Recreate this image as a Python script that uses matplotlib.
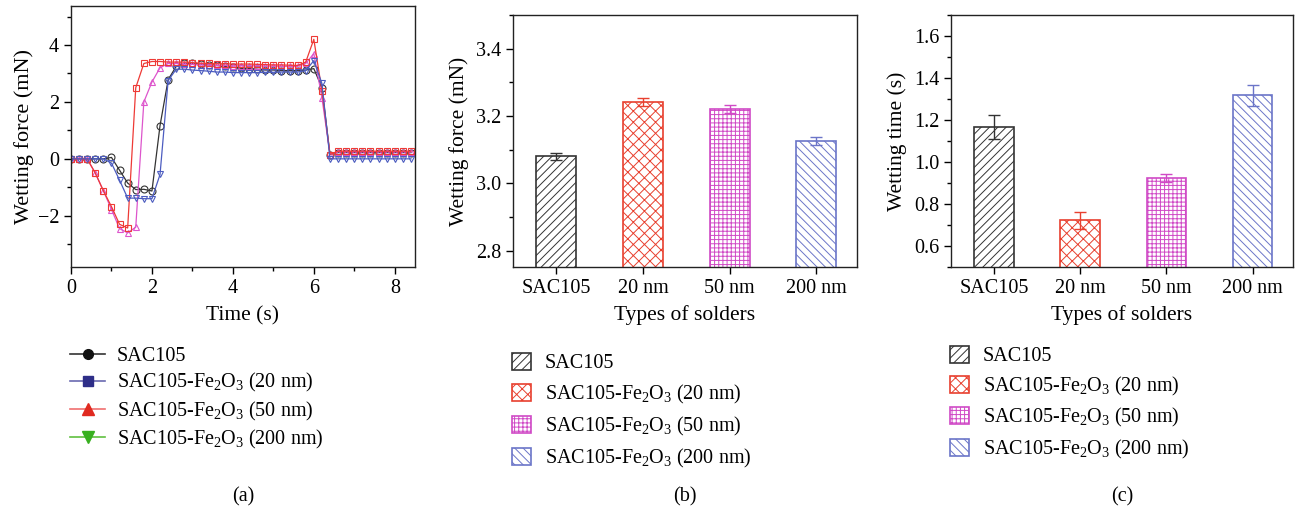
import numpy as np
import matplotlib
matplotlib.use('Agg')
import matplotlib.pyplot as plt
from matplotlib.lines import Line2D
from matplotlib.patches import Patch
from matplotlib.ticker import AutoMinorLocator, MultipleLocator

plt.rcParams['font.family'] = ['Liberation Serif', 'DejaVu Serif']
plt.rcParams['mathtext.fontset'] = 'custom'
plt.rcParams['mathtext.rm'] = 'Liberation Serif'
plt.rcParams['mathtext.it'] = 'Liberation Serif:italic'
plt.rcParams['hatch.linewidth'] = 0.7

# (a) wetting curves, one point every 0.2 s
t = np.round(np.arange(0, 8.41, 0.2), 1)
f_sac = [0, 0, 0, 0, 0, 0.05, -0.4, -0.85, -1.08, -1.07, -1.13, 1.17, 2.78, 3.25, 3.35,
         3.35, 3.32, 3.3, 3.28, 3.25, 3.22, 3.18, 3.17, 3.15, 3.12, 3.12, 3.1, 3.1, 3.1,
         3.12, 3.17, 2.5, 0.15, 0.22, 0.22, 0.22, 0.22, 0.22, 0.22, 0.22, 0.22, 0.22, 0.22]
f_20 = [0, 0, 0, -0.5, -1.12, -1.68, -2.3, -2.43, 2.5, 3.35, 3.42, 3.42, 3.4, 3.4, 3.4,
        3.38, 3.36, 3.35, 3.34, 3.34, 3.33, 3.33, 3.33, 3.32, 3.31, 3.3, 3.3, 3.29, 3.28,
        3.4, 4.2, 2.4, 0.15, 0.27, 0.27, 0.27, 0.27, 0.27, 0.27, 0.27, 0.27, 0.27, 0.27]
f_50 = [0, 0, 0, -0.5, -1.12, -1.78, -2.45, -2.6, -2.4, 2.0, 2.7, 3.2, 3.35, 3.35, 3.33,
        3.32, 3.3, 3.3, 3.28, 3.28, 3.27, 3.27, 3.27, 3.27, 3.26, 3.26, 3.25, 3.25, 3.25,
        3.35, 3.7, 2.15, 0.15, 0.25, 0.25, 0.25, 0.25, 0.25, 0.25, 0.25, 0.25, 0.25, 0.25]
f_200 = [0, 0, 0, 0, 0, -0.15, -0.75, -1.38, -1.38, -1.4, -1.4, -0.55, 2.75, 3.15, 3.15,
         3.12, 3.1, 3.08, 3.05, 3.05, 3.03, 3.03, 3.03, 3.03, 3.04, 3.04, 3.05, 3.05, 3.05,
         3.1, 3.45, 2.65, 0.0, 0, 0, 0, 0, 0, 0, 0, 0, 0, 0]

# (b), (c) bar data
solders = ['SAC105', '20 nm', '50 nm', '200 nm']
force = [3.08, 3.242, 3.221, 3.126]
force_err = [0.011, 0.011, 0.011, 0.011]
wtime = [1.167, 0.722, 0.923, 1.317]
wtime_err = [0.057, 0.04, 0.02, 0.052]

legend_labels = ['SAC105', 'SAC105-Fe$_2$O$_3$ (20 nm)',
                 'SAC105-Fe$_2$O$_3$ (50 nm)', 'SAC105-Fe$_2$O$_3$ (200 nm)']

bar_colors = ['#333333', '#e8402f', '#d04ac6', '#6b75c8']
bar_hatches = ['////', 'xxx', '++++', '\\\\\\\\']

W, H = 1295, 515
fig = plt.figure(figsize=(W / 100, H / 100), dpi=100)

def box(l, t_, r, b):
    return [l / W, 1 - b / H, (r - l) / W, (b - t_) / H]

ax_a = fig.add_axes(box(71, 6, 415, 267))
ax_b = fig.add_axes(box(513, 15, 857, 267))
ax_c = fig.add_axes(box(951, 15, 1293, 267))

fs = 14.5   # ticks, legend
fl = 15.5   # axis labels
for ax in (ax_a, ax_b, ax_c):
    for s in ax.spines.values():
        s.set_linewidth(1.0)
        s.set_color('#222222')
    ax.tick_params(which='major', direction='out', length=5, width=1, labelsize=fs,
                   top=False, right=False)
    ax.tick_params(which='minor', direction='out', length=3, width=1, top=False, right=False)

# ---- panel a
styles = {'sac': ('#333333', 'o'), '20': ('#ee3a36', 's'), '50': ('#dd55cc', '^'), '200': ('#4c5cc0', 'v')}
for y, key in [(f_sac, 'sac'), (f_50, '50'), (f_20, '20'), (f_200, '200')]:
    c, m = styles[key]
    ax_a.plot(t, y, color=c, lw=0.9, marker=m, ms=5, mfc='none', mec=c, mew=0.8)
ax_a.set_xlim(0, 8.5)
ax_a.set_ylim(-3.8, 5.37)
ax_a.xaxis.set_major_locator(MultipleLocator(2))
ax_a.xaxis.set_minor_locator(AutoMinorLocator(2))
ax_a.yaxis.set_minor_locator(MultipleLocator(1))
ax_a.set_yticks([-2, 0, 2, 4])
ax_a.set_yticklabels(['\u22122', '0', '2', '4'])
ax_a.set_xlabel('Time (s)', fontsize=fl, labelpad=6)
ax_a.set_ylabel('Wetting force (mN)', fontsize=fl + 0.5, labelpad=3)

handles_a = [
    Line2D([], [], color='#333333', marker='o', mfc='#111111', mec='#111111', ms=7, lw=1.2),
    Line2D([], [], color='#6a6ab0', marker='s', mfc='#2e2e88', mec='#2e2e88', ms=7, lw=1.2),
    Line2D([], [], color='#f07070', marker='^', mfc='#e02a20', mec='#e02a20', ms=8, lw=1.2),
    Line2D([], [], color='#60c040', marker='v', mfc='#38b020', mec='#38b020', ms=8, lw=1.2),
]
ax_a.legend(handles_a, legend_labels, loc='upper left', bbox_to_anchor=(70 / W, 1 - 347 / H),
            bbox_transform=fig.transFigure, frameon=False, borderpad=0, borderaxespad=0,
            handlelength=1.74, handletextpad=0.58, labelspacing=0.26, fontsize=fs)

# ---- panels b, c
x = np.arange(len(solders))
for ax, vals, errs, ylab in [(ax_b, force, force_err, 'Wetting force (mN)'),
                              (ax_c, wtime, wtime_err, 'Wetting time (s)')]:
    ax.bar(x, vals, width=0.46, color='white', edgecolor=bar_colors, linewidth=1.2,
           hatch=bar_hatches, zorder=2)
    for xi, v, e, c in zip(x, vals, errs, bar_colors):
        ax.errorbar(xi, v, yerr=e, color=c, capsize=4, capthick=1, elinewidth=1, zorder=3)
    ax.set_xlim(-0.5, 3.47)
    ax.set_xticks(x)
    ax.set_xticklabels(solders)
    ax.set_xlabel('Types of solders', fontsize=fl, labelpad=5)
    ax.set_ylabel(ylab, fontsize=fl, labelpad=5)
    ax.yaxis.set_major_locator(MultipleLocator(0.2))
    ax.yaxis.set_minor_locator(AutoMinorLocator(2))
    handles = [Patch(facecolor='white', edgecolor=c, hatch=h, linewidth=1.2)
               for c, h in zip(bar_colors, bar_hatches)]
    if ax is ax_b:
        anchor, sp = (512 / W, 1 - 353 / H), 0.45
    else:
        anchor, sp = (950 / W, 1 - 346 / H), 0.42
    ax.legend(handles, legend_labels, loc='upper left', bbox_to_anchor=anchor,
              bbox_transform=fig.transFigure, frameon=False, borderpad=0, borderaxespad=0,
              handlelength=0.92, handleheight=0.92, handletextpad=0.7, labelspacing=sp,
              fontsize=fs)

ax_b.set_ylim(2.752, 3.5)
ax_c.set_ylim(0.5, 1.7)

for lab, cx in [('(a)', 243), ('(b)', 685), ('(c)', 1122)]:
    fig.text(cx / W, 1 - 497 / H, lab, ha='center', va='center', fontsize=fs)

fig.savefig('out.png', dpi=100)
